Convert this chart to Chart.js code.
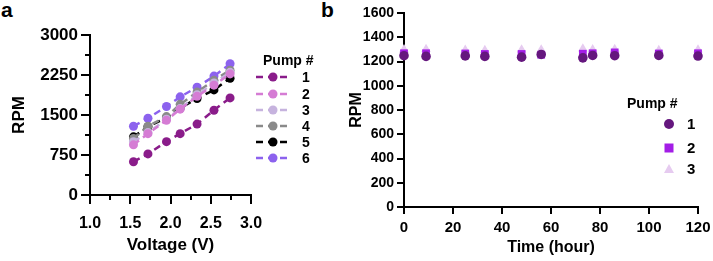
<!DOCTYPE html>
<html>
<head>
<meta charset="utf-8">
<script src="https://cdn.jsdelivr.net/npm/chart.js@4/dist/chart.umd.min.js"></script>
<style>
  html, body { margin:0; padding:0; background:#fff; }
  body { width:713px; height:261px; position:relative; overflow:hidden; font-family:"Liberation Sans", Arial, sans-serif; }
  .panel { position:absolute; font-weight:bold; font-size:21px; color:#000; line-height:1; }
  #wa { position:absolute; left:0; top:0; width:330px; height:261px; }
  #wb { position:absolute; left:320px; top:0; width:393px; height:261px; }
</style>
</head>
<body>
<div class="panel" style="left:1px; top:-1px;">a</div>
<div class="panel" style="left:321px; top:-1px;">b</div>
<div id="wa"><canvas id="ca"></canvas></div>
<div id="wb"><canvas id="cb"></canvas></div>
<script>
// ---------- Panel a data ----------
const voltage = [1.54, 1.72, 1.95, 2.12, 2.33, 2.54, 2.74];
const pumpA1 = [624, 770, 1000, 1150, 1330, 1590, 1820];
const pumpA2 = [940, 1150, 1400, 1610, 1850, 2060, 2270];
const pumpA3 = [1000, 1170, 1420, 1620, 1880, 2100, 2300];
const pumpA4 = [1060, 1290, 1470, 1700, 1930, 2150, 2340];
const pumpA5 = [1090, 1280, 1450, 1630, 1810, 1970, 2190];
const pumpA6 = [1290, 1440, 1660, 1840, 2020, 2230, 2460];
const pumpLabelsA = ['1', '2', '3', '4', '5', '6'];
const xTicksA = [1.0, 1.5, 2.0, 2.5, 3.0];
const yTicksA = [0, 750, 1500, 2250, 3000];

// ---------- Panel b data ----------
const hours = [0, 9, 25, 33, 48, 56, 73, 77, 86, 104, 120];
const pumpB1 = [1248, 1242, 1246, 1242, 1236, 1258, 1230, 1250, 1248, 1250, 1245];
const pumpB2 = [1268, 1268, 1266, 1262, 1262, 1256, 1264, 1268, 1275, 1266, 1268];
const pumpB3 = [1300, 1302, 1295, 1292, 1296, 1296, 1306, 1300, 1302, 1292, 1296];
const pumpLabelsB = ['1', '2', '3'];
const xTicksB = [0, 20, 40, 60, 80, 100, 120];
const yTicksB = [0, 200, 400, 600, 800, 1000, 1200, 1400, 1600];

const FONT = '"Liberation Sans", Arial, sans-serif';
const colorsA = ['#8A1C8A', '#D57CD4', '#C6B3DE', '#8A8A8A', '#000000', '#8C62EE'];
const colorsB = ['#65177E', '#A31DE6', '#E6CBF0'];
const stylesB = ['circle', 'rect', 'triangle'];

function pairs(xs, ys) { return xs.map((x, i) => ({ x: x, y: ys[i] })); }

// minor ticks plugin (draws short ticks via the scale's own pixel mapping)
const minorTicks = {
  id: 'minorTicks',
  afterDraw(chart, args, opts) {
    if (!opts || !opts.scales) return;
    const ctx = chart.ctx;
    ctx.save();
    ctx.strokeStyle = '#000';
    ctx.lineWidth = 2;
    for (const id in opts.scales) {
      const s = chart.scales[id];
      const vals = opts.scales[id];
      const len = opts.length || 5;
      vals.forEach(v => {
        const p = Math.round(s.getPixelForValue(v));
        ctx.beginPath();
        if (s.isHorizontal()) { ctx.moveTo(p, s.top); ctx.lineTo(p, s.top + len); }
        else { ctx.moveTo(s.right, p); ctx.lineTo(s.right - len, p); }
        ctx.stroke();
      });
    }
    ctx.restore();
  }
};

const legendA = {
  id: 'legendA',
  afterDraw(chart) {
    const ctx = chart.ctx;
    ctx.save();
    ctx.fillStyle = '#000';
    ctx.textBaseline = 'middle';
    ctx.font = 'bold 14px ' + FONT;
    ctx.fillText('Pump #', 263, 61);
    const ys = [77, 94, 110, 126, 142, 158];
    chart.data.datasets.forEach((ds, i) => {
      const y = ys[i];
      ctx.strokeStyle = ds.borderColor;
      ctx.lineWidth = 2.5;
      ctx.setLineDash([7, 5]);
      ctx.beginPath(); ctx.moveTo(256, y); ctx.lineTo(290, y); ctx.stroke();
      ctx.setLineDash([]);
      ctx.fillStyle = ds.pointBackgroundColor;
      ctx.beginPath(); ctx.arc(273, y, 4.5, 0, Math.PI * 2); ctx.fill();
      ctx.fillStyle = '#000';
      ctx.font = 'bold 14px ' + FONT;
      ctx.fillText(ds.label, 302, y + 1);
    });
    ctx.restore();
  }
};

const legendB = {
  id: 'legendB',
  afterDraw(chart) {
    const ctx = chart.ctx;
    ctx.save();
    ctx.fillStyle = '#000';
    ctx.textBaseline = 'middle';
    ctx.font = 'bold 14px ' + FONT;
    ctx.fillText('Pump #', 307, 104);
    const ys = [124, 148, 169];
    const mx = 349;
    chart.data.datasets.forEach((ds, i) => {
      const y = ys[i];
      ctx.fillStyle = ds.pointBackgroundColor;
      ctx.beginPath();
      if (ds.pointStyle === 'circle') { ctx.arc(mx, y, 5, 0, Math.PI * 2); }
      else if (ds.pointStyle === 'rect') { ctx.rect(mx - 4.5, y - 4.5, 9, 9); }
      else { ctx.moveTo(mx, y - 5); ctx.lineTo(mx + 5, y + 4); ctx.lineTo(mx - 5, y + 4); ctx.closePath(); }
      ctx.fill();
      ctx.fillStyle = '#000';
      ctx.font = 'bold 15px ' + FONT;
      ctx.fillText(ds.label, 367, y + 1);
    });
    ctx.restore();
  }
};

function axisCommon(tickFontSize) {
  return {
    border: { display: true, color: '#000', width: 2 },
    grid: { display: true, drawOnChartArea: false, drawTicks: true, tickLength: 9, color: '#000', lineWidth: 2, tickColor: '#000', tickWidth: 2 },
    ticks: { color: '#000', font: { family: FONT, size: tickFontSize, weight: 'bold' }, maxRotation: 0, autoSkip: false, callback: v => String(v) }
  };
}

// ---------- Chart a ----------
const seriesA = [pumpA1, pumpA2, pumpA3, pumpA4, pumpA5, pumpA6];
const xA = axisCommon(16), yA = axisCommon(17);
Object.assign(xA, {
  type: 'linear', min: 1.0, max: 3.0,
  afterBuildTicks: s => { s.ticks = xTicksA.map(v => ({ value: v })); },
  afterFit: s => { s.height = 66; s.paddingLeft = 0; s.paddingRight = 0; },
  title: { display: true, text: 'Voltage (V)', color: '#000', font: { family: FONT, size: 17, weight: 'bold' }, padding: { top: 0, bottom: 5 } }
});
xA.ticks.padding = 10;
xA.ticks.callback = v => Number(v).toFixed(1);
Object.assign(yA, {
  type: 'linear', min: 0, max: 3000,
  afterBuildTicks: s => { s.ticks = yTicksA.map(v => ({ value: v })); },
  afterFit: s => { s.width = 90; s.paddingTop = 0; s.paddingBottom = 0; },
  title: { display: true, text: 'RPM', color: '#000', font: { family: FONT, size: 17, weight: 'bold' }, padding: { top: 9, bottom: 0 } }
});
yA.ticks.padding = 3;

new Chart(document.getElementById('ca'), {
  type: 'line',
  data: {
    datasets: seriesA.map((vals, i) => ({
      label: pumpLabelsA[i],
      data: pairs(voltage, vals),
      borderColor: colorsA[i],
      backgroundColor: colorsA[i],
      pointBackgroundColor: colorsA[i],
      pointBorderColor: colorsA[i],
      pointRadius: 4.5,
      pointBorderWidth: 0,
      borderWidth: 2.5,
      borderDash: [7, 5],
      tension: 0,
      fill: false,
      clip: false
    }))
  },
  options: {
    responsive: true, maintainAspectRatio: false, animation: false,
    layout: { padding: { left: 0, top: 35, right: 79, bottom: 0 } },
    plugins: {
      legend: { display: false }, tooltip: { enabled: false },
      minorTicks: { length: 5, scales: { x: [1.25, 1.75, 2.25, 2.75], y: [375, 1125, 1875, 2625] } }
    },
    scales: { x: xA, y: yA }
  },
  plugins: [minorTicks, legendA]
});

// ---------- Chart b ----------
const seriesB = [pumpB1, pumpB2, pumpB3];
const xB = axisCommon(15), yB = axisCommon(14);
xB.grid.tickLength = 7; yB.grid.tickLength = 7;
Object.assign(xB, {
  type: 'linear', min: 0, max: 120,
  afterBuildTicks: s => { s.ticks = xTicksB.map(v => ({ value: v })); },
  afterFit: s => { s.height = 54; s.paddingLeft = 0; s.paddingRight = 0; },
  title: { display: true, text: 'Time (hour)', color: '#000', font: { family: FONT, size: 16, weight: 'bold' }, padding: { top: 0, bottom: 4 } }
});
xB.ticks.padding = 5;
Object.assign(yB, {
  type: 'linear', min: 0, max: 1600,
  afterBuildTicks: s => { s.ticks = yTicksB.map(v => ({ value: v })); },
  afterFit: s => { s.width = 84; s.paddingTop = 0; s.paddingBottom = 0; },
  title: { display: true, text: 'RPM', color: '#000', font: { family: FONT, size: 16, weight: 'bold' }, padding: { top: 27, bottom: 0 } }
});
yB.ticks.padding = 3;

new Chart(document.getElementById('cb'), {
  type: 'scatter',
  data: {
    datasets: seriesB.map((vals, i) => ({
      label: pumpLabelsB[i],
      data: pairs(hours, vals),
      pointStyle: stylesB[i],
      backgroundColor: colorsB[i],
      borderColor: colorsB[i],
      pointBackgroundColor: colorsB[i],
      pointBorderColor: colorsB[i],
      pointBorderWidth: 0,
      pointRadius: i === 0 ? 4.8 : 5.5,
      showLine: false,
      clip: false
    }))
  },
  options: {
    responsive: true, maintainAspectRatio: false, animation: false,
    layout: { padding: { left: 0, top: 13, right: 15, bottom: 0 } },
    plugins: { legend: { display: false }, tooltip: { enabled: false } },
    scales: { x: xB, y: yB }
  },
  plugins: [legendB]
});
</script>
</body>
</html>
